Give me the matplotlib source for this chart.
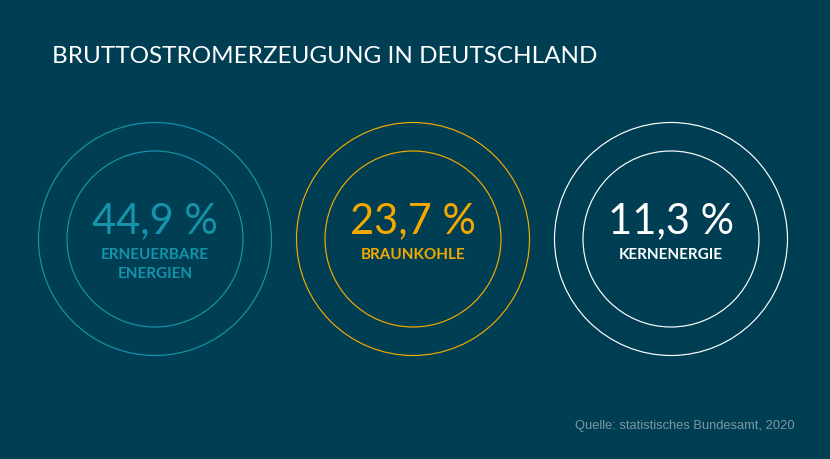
import matplotlib.pyplot as plt
from matplotlib.patches import Circle

# data
values = [44.9, 23.7, 11.3]
labels = [["ERNEUERBARE", "ENERGIEN"], ["BRAUNKOHLE"], ["KERNENERGIE"]]
colors = ["#1593aa", "#f5a800", "#ffffff"]

title = "BRUTTOSTROMERZEUGUNG IN DEUTSCHLAND"
source = "Quelle: statistisches Bundesamt, 2020"

bg = "#003f53"

fig = plt.figure(figsize=(8.3, 4.6), dpi=100, facecolor=bg)
ax = fig.add_axes([0, 0, 1, 1])
ax.set_facecolor(bg)
ax.set_xlim(0, 830)
ax.set_ylim(460, 0)
ax.set_aspect("equal")
ax.axis("off")

x0, step, cy = 155, 258, 240
for i, (val, lab, col) in enumerate(zip(values, labels, colors)):
    cx = x0 + i * step
    for r in (116.5, 88):
        ax.add_patch(Circle((cx, cy), r, fill=False, edgecolor=col, linewidth=0.85))
    num = f"{val:.1f}".replace(".", ",") + " %"
    ax.text(cx, 233, num, color=col, fontsize=30, family="Lato",
            ha="center", va="baseline")
    for j, line in enumerate(lab):
        ax.text(cx, 259 + j * 19, line, color=col, fontsize=11, family="Lato",
                weight="bold", ha="center", va="baseline")

ax.text(52, 63, title, color="white", fontsize=17.5, family="Lato",
        ha="left", va="baseline")
ax.text(795, 429, source, color="#7b97a3", fontsize=9.3, family="Liberation Sans",
        ha="right", va="baseline")

fig.savefig("out.png", dpi=100, facecolor=bg)
